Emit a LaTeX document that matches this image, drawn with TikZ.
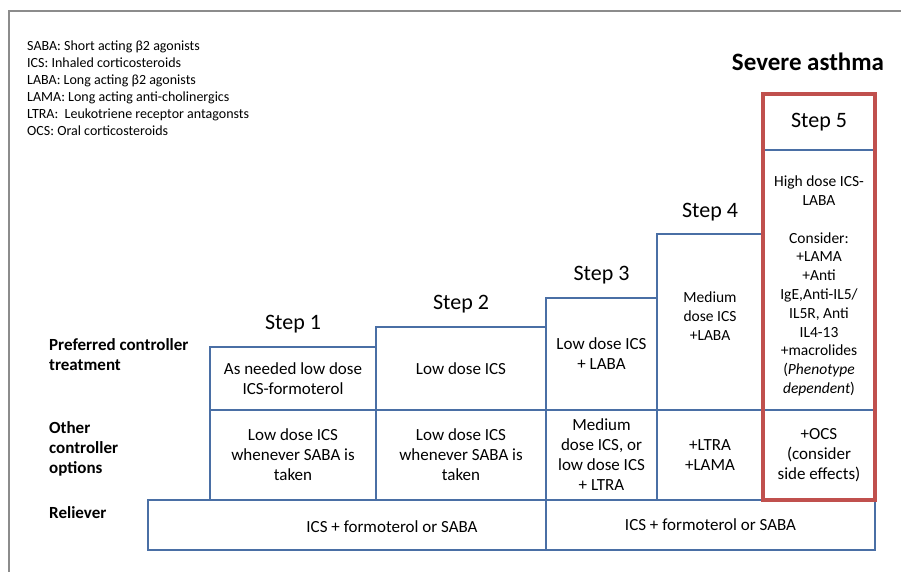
\documentclass[tikz,border=0pt]{standalone}
\usepackage{fontspec}
\setmainfont{Carlito}
\usetikzlibrary{positioning,calc}
\definecolor{gridblue}{HTML}{4A6FA5}
\definecolor{framered}{HTML}{C0504D}
\definecolor{framegray}{HTML}{8C8C8C}
\tikzset{
    cell/.style={rectangle, draw=gridblue, line width=2.2pt, anchor=north west,
        inner sep=0pt, outer sep=0pt, align=center, font=\fontsize{17}{20}\selectfont},
    celltext/.style={inner sep=0pt, align=center, font=\fontsize{17}{20}\selectfont},
    smalltext/.style={inner sep=0pt, align=center, font=\fontsize{15.5}{18.8}\selectfont},
    steplabel/.style={inner sep=0pt, outer sep=0pt, font=\fontsize{22}{26}\selectfont},
    rowlabel/.style={anchor=west, align=left, inner sep=0pt, font=\bfseries\fontsize{17}{20}\selectfont}
}

\begin{document}
\begin{tikzpicture}[x=1pt, y=-1pt]
\useasboundingbox (0,0) rectangle (901,571);

% ---- page frame ----
\draw[framegray, line width=2.5pt] (9,580) -- (9,11) -- (910,11);

% ---- abbreviations ----
\node[anchor=west, align=left, inner sep=0pt, font=\fontsize{14}{16.9}\selectfont] (abbr) at (27,88)
  {SABA: Short acting β2 agonists\\
   ICS: Inhaled corticosteroids\\
   LABA: Long acting β2 agonists\\
   LAMA: Long acting anti-cholinergics\\
   LTRA:\ \ Leukotriene receptor antagonsts\\
   OCS: Oral corticosteroids};

\node[inner sep=0pt, font=\bfseries\fontsize{25}{30}\selectfont] (severe) at (808,62) {Severe asthma};

% ---- row labels ----
\node[rowlabel] (lpref) at (49,355) {Preferred controller\\treatment};
\node[rowlabel] (lother) at (49,449) {Other\\controller\\options};
\node[rowlabel] (lrel) at (49,513) {Reliever};

% ---- preferred controller ----
\node[cell, minimum width=166pt, minimum height=63pt] (p1) at (210,347) {As needed low dose\\ICS-formoterol};
\node[cell, minimum width=170pt, minimum height=83pt] (p2) at (376,327) {Low dose ICS};
\node[cell, minimum width=111pt, minimum height=112pt] (p3) at (546,298) {Low dose ICS\\+ LABA};
\node[cell, minimum width=106pt, minimum height=176pt] (p4) at (657,234) {};
\node[cell, minimum width=112pt, minimum height=56pt, font=\fontsize{22}{26}\selectfont] (h5) at (763,94) {Step 5};
\node[cell, minimum width=112pt, minimum height=260pt] (p5) at (763,150) {};

\node[smalltext] (t4) at ($(p4.center)+(0,-6)$) {Medium\\dose ICS\\+LABA};
\node[smalltext] (t5) at ($(p5.center)+(0,6)$)
  {High dose ICS-\\LABA\\[18.8pt]Consider:\\+LAMA\\+Anti\\IgE,Anti-IL5/\\IL5R, Anti\\IL4-13\\+macrolides\\(\textit{Phenotype}\\\textit{dependent})};

% ---- step labels ----
\node[steplabel, above=13.5pt of p1] (s1) {Step 1};
\node[steplabel, above=13.5pt of p2] (s2) {Step 2};
\node[steplabel, above=13.5pt of p3] (s3) {Step 3};
\node[steplabel, above=13pt of p4] (s4) {Step 4};

% ---- other controller options ----
\node[cell, minimum width=166pt, minimum height=90pt] (o1) at (210,410) {Low dose ICS\\whenever SABA is\\taken};
\node[cell, minimum width=170pt, minimum height=90pt] (o2) at (376,410) {Low dose ICS\\whenever SABA is\\taken};
\node[cell, minimum width=111pt, minimum height=90pt] (o3) at (546,410) {Medium\\dose ICS, or\\low dose ICS\\+ LTRA};
\node[cell, minimum width=106pt, minimum height=90pt] (o4) at (657,410) {+LTRA\\+LAMA};
\node[cell, minimum width=112pt, minimum height=90pt] (o5) at (763,410) {+OCS\\(consider\\side effects)};

% ---- reliever ----
\node[cell, minimum width=398pt, minimum height=50pt] (r1) at (148,500) {};
\node[cell, minimum width=329pt, minimum height=50pt] (r2) at (546,500) {ICS + formoterol or SABA};
\node[celltext] (tr1) at ($(r1.center)+(45,2)$) {ICS + formoterol or SABA};

% ---- severe asthma frame ----
\draw[framered, line width=3.8pt] (h5.north west) rectangle (o5.south east);

\end{tikzpicture}
\end{document}
